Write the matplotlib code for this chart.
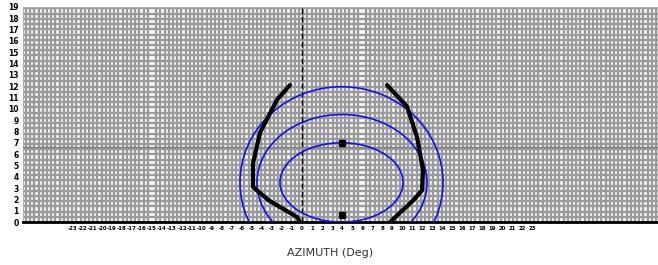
import numpy as np
import matplotlib
matplotlib.use("Agg")
import matplotlib.pyplot as plt
from matplotlib.patches import Ellipse

# axis ranges / ticks
az_ticks = list(range(-23, 24))      # azimuth tick labels (deg)
el_ticks = list(range(0, 20))        # elevation tick labels

# gain contours (blue): centre, half-width, half-height
contour_x0 = [3.95, 4.0, 3.95]
contour_y0 = [3.5, 3.5, 3.5]
contour_a = [6.15, 8.5, 10.15]
contour_b = [3.5, 6.0, 8.45]

# thick black boundary, left and right branches
left_az = [-1.2, -2.5, -4.2, -4.9, -4.9, -3.3, -0.5, -0.2]
left_el = [12.1, 10.8, 7.9, 5.2, 3.1, 1.9, 0.45, 0.0]
right_az = [8.5, 10.5, 11.5, 12.1, 12.0, 11.1, 8.8]
right_el = [12.1, 10.2, 7.5, 4.6, 2.8, 1.9, 0.0]

# peak markers
peak_az = [4.0, 4.0]
peak_el = [7.0, 0.6]

fig = plt.figure(figsize=(6.58, 2.65), dpi=100)
ax = fig.add_axes([0.035, 0.162, 0.965, 0.812])

ax.set_xlim(-27.9, 35.6)
ax.set_ylim(0, 19)

# dense grid
ax.set_xticks(np.arange(-27.6, 35.6, 0.42), minor=True)
ax.set_yticks(np.arange(0, 19.01, 0.46), minor=True)
ax.grid(which="minor", color="#9a9a9a", lw=1.7)
ax.tick_params(which="minor", length=0)

ax.set_xticks(az_ticks)
ax.set_yticks(el_ticks)
ax.set_xticklabels([str(v) for v in az_ticks], fontsize=3.9, fontweight="bold")
ax.set_yticklabels([str(v) for v in el_ticks], fontsize=5.5, fontweight="bold")
ax.tick_params(which="major", length=0, pad=3)

for s in ["top", "left"]:
    ax.spines[s].set_color("#b0b0b0")
ax.spines["right"].set_visible(False)
ax.spines["bottom"].set_color("black")
ax.spines["bottom"].set_linewidth(2)
ax.spines["bottom"].set_linestyle((0, (3, 1)))

# crosshair
ax.axvline(0, color="black", lw=1, ls=(0, (4, 2)), zorder=3)
ax.axhline(6.65, color="#808080", lw=1, zorder=3)

for x0, y0, a, b in zip(contour_x0, contour_y0, contour_a, contour_b):
    ax.add_patch(Ellipse((x0, y0), 2 * a, 2 * b, fill=False, ec="#1010f0", lw=1.2, zorder=4))

ax.plot(left_az, left_el, color="black", lw=3, solid_capstyle="round", zorder=5)
ax.plot(right_az, right_el, color="black", lw=3, solid_capstyle="round", zorder=5)
ax.plot(peak_az, peak_el, "s", color="black", ms=4, zorder=6)

fig.text(0.502, 0.035, "AZIMUTH (Deg)", fontsize=8, color="#333333", ha="center")

fig.savefig("out.png", dpi=100)
